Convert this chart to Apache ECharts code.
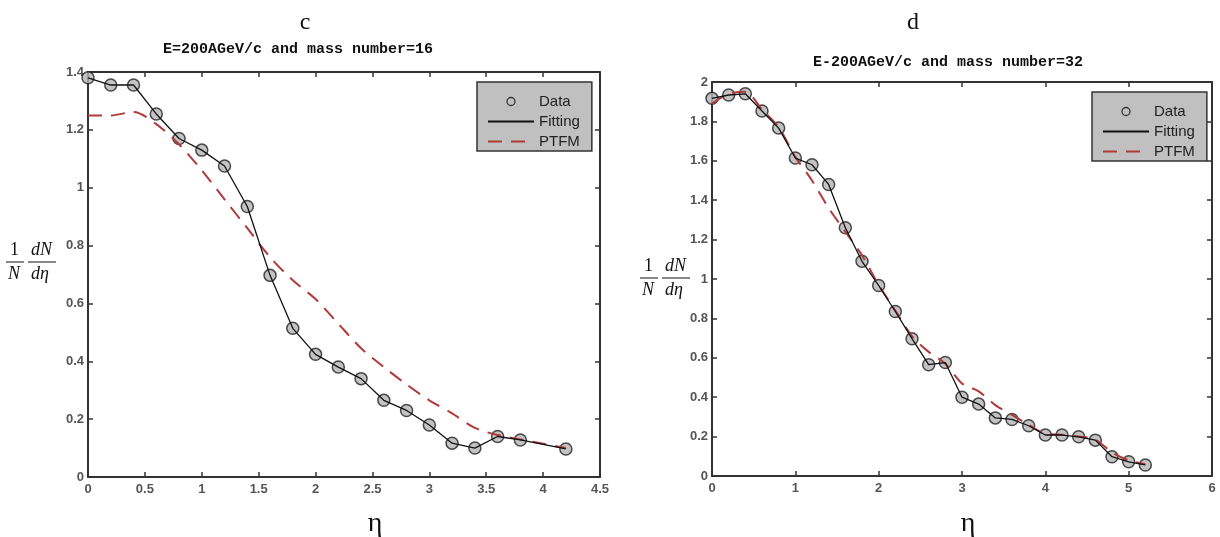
<!DOCTYPE html>
<html>
<head>
<meta charset="utf-8">
<script src="https://cdn.jsdelivr.net/npm/echarts@6/dist/echarts.min.js"></script>
<style>
  html, body { margin: 0; padding: 0; background: #fff; }
  #chart { width: 1220px; height: 537px; }
</style>
</head>
<body>
<div id="chart"></div>
<script>
// panel c : mass number = 16
const etaC = [0, 0.2, 0.4, 0.6, 0.8, 1.0, 1.2, 1.4, 1.6, 1.8, 2.0, 2.2, 2.4, 2.6, 2.8, 3.0, 3.2, 3.4, 3.6, 3.8, 4.2];
const dataC = [1.38, 1.355, 1.355, 1.255, 1.17, 1.13, 1.075, 0.935, 0.697, 0.514, 0.424, 0.38, 0.34, 0.265, 0.23, 0.18, 0.117, 0.1, 0.14, 0.128, 0.097];
const ptfmEtaC = [0, 0.2, 0.4, 0.6, 0.8, 1.0, 1.2, 1.4, 1.6, 1.8, 2.0, 2.2, 2.4, 2.6, 2.8, 3.0, 3.2, 3.4, 3.6, 3.8, 4.0, 4.2];
const ptfmC = [1.25, 1.25, 1.262, 1.22, 1.15, 1.06, 0.96, 0.86, 0.76, 0.68, 0.615, 0.53, 0.445, 0.38, 0.32, 0.265, 0.22, 0.17, 0.145, 0.13, 0.115, 0.1];

// panel d : mass number = 32
const etaD = [0, 0.2, 0.4, 0.6, 0.8, 1.0, 1.2, 1.4, 1.6, 1.8, 2.0, 2.2, 2.4, 2.6, 2.8, 3.0, 3.2, 3.4, 3.6, 3.8, 4.0, 4.2, 4.4, 4.6, 4.8, 5.0, 5.2];
const dataD = [1.917, 1.934, 1.94, 1.853, 1.766, 1.614, 1.58, 1.48, 1.26, 1.09, 0.967, 0.835, 0.697, 0.565, 0.576, 0.4, 0.365, 0.295, 0.287, 0.255, 0.208, 0.208, 0.199, 0.182, 0.098, 0.072, 0.056];
const ptfmD = [1.89, 1.94, 1.95, 1.86, 1.77, 1.62, 1.5, 1.36, 1.24, 1.12, 0.97, 0.84, 0.71, 0.63, 0.57, 0.47, 0.43, 0.36, 0.31, 0.26, 0.215, 0.21, 0.2, 0.185, 0.12, 0.08, 0.06];

const pairs = (xs, ys) => xs.map((x, i) => [x, ys[i]]);

const axisColor = '#333';
const labelStyle = { color: '#555', fontWeight: 'bold', fontFamily: 'Arial, Liberation Sans', fontSize: 13 };

function makeX(gridIndex, max, interval, top) {
  return {
    type: 'value', gridIndex, min: 0, max, interval,
    position: top ? 'top' : 'bottom',
    axisLine: { show: true, onZero: false, lineStyle: { color: axisColor, width: 2 } },
    axisTick: { show: true, inside: true, length: 5, lineStyle: { color: axisColor, width: 1.5 } },
    axisLabel: top ? { show: false } : Object.assign({ margin: 6 }, labelStyle),
    splitLine: { show: false }
  };
}

function makeY(gridIndex, max, right) {
  return {
    type: 'value', gridIndex, min: 0, max, interval: 0.2,
    position: right ? 'right' : 'left',
    axisLine: { show: true, onZero: false, lineStyle: { color: axisColor, width: 2 } },
    axisTick: { show: true, inside: true, length: 5, lineStyle: { color: axisColor, width: 1.5 } },
    axisLabel: right ? { show: false } : Object.assign({ margin: 4 }, labelStyle),
    splitLine: { show: false }
  };
}

function panelSeries(idx, eta, data, ptfmEta, ptfm) {
  return [
    {
      name: 'PTFM', type: 'line', xAxisIndex: idx * 2, yAxisIndex: idx * 2,
      data: pairs(ptfmEta, ptfm), symbol: 'none', smooth: 0.3,
      lineStyle: { color: '#b03a3a', width: 2, type: [14, 9] }, itemStyle: { color: '#b03a3a' }
    },
    {
      name: 'Fitting', type: 'line', xAxisIndex: idx * 2, yAxisIndex: idx * 2,
      data: pairs(eta, data), symbol: 'none',
      lineStyle: { color: '#111', width: 1.3 }, itemStyle: { color: '#111' }
    },
    {
      name: 'Data', type: 'scatter', xAxisIndex: idx * 2, yAxisIndex: idx * 2,
      data: pairs(eta, data), symbol: 'circle', symbolSize: 12,
      itemStyle: { color: '#b4b4b4', borderColor: '#222', borderWidth: 1.5 }
    }
  ];
}

function makeLegend(left, top) {
  return {
    data: [
      { name: 'Data', itemStyle: { color: '#c0c0c0', borderColor: '#111', borderWidth: 1.3 } },
      { name: 'Fitting', itemStyle: { opacity: 0 } },
      { name: 'PTFM', itemStyle: { opacity: 0 } }
    ],
    orient: 'vertical', left, top,
    backgroundColor: '#c0c0c0', borderColor: '#333', borderWidth: 1.5,
    padding: [12, 12, 2, 10], itemGap: 5, itemWidth: 46, itemHeight: 8,
    textStyle: { fontFamily: 'Arial, Liberation Sans', fontSize: 15, color: '#222' },
    selectedMode: false
  };
}

function fraction(x, y) {
  const t = { fontFamily: 'Liberation Serif, Times New Roman', fontStyle: 'italic', fontSize: 18, fill: '#111' };
  return [
    { type: 'text', left: x + 4, top: y - 21, style: Object.assign({}, t, { text: '1', fontStyle: 'normal' }) },
    { type: 'line', shape: { x1: x, y1: y, x2: x + 18, y2: y }, style: { stroke: '#111', lineWidth: 1 } },
    { type: 'text', left: x + 2, top: y + 3, style: Object.assign({ text: 'N' }, t) },
    { type: 'text', left: x + 25, top: y - 21, style: Object.assign({ text: 'dN' }, t) },
    { type: 'line', shape: { x1: x + 22, y1: y, x2: x + 50, y2: y }, style: { stroke: '#111', lineWidth: 1 } },
    { type: 'text', left: x + 25, top: y + 3, style: Object.assign({ text: 'd\u03b7' }, t) }
  ];
}

const serif = { fontFamily: 'Liberation Serif, Times New Roman', fontSize: 24, color: '#111', fontWeight: 'normal' };
const mono = { fontFamily: 'Liberation Mono, Courier New', fontSize: 15, fontWeight: 'bold', color: '#111' };

const option = {
  animation: false,
  backgroundColor: '#fff',
  title: [
    { text: 'c', left: 300, top: 6, textAlign: 'center', textStyle: serif },
    { text: 'E=200AGeV/c and mass number=16', left: 293, top: 37, textAlign: 'center', textStyle: mono },
    { text: 'd', left: 908, top: 6, textAlign: 'center', textStyle: serif },
    { text: 'E-200AGeV/c and mass number=32', left: 943, top: 50, textAlign: 'center', textStyle: mono },
    { text: '\u03b7', left: 370, top: 505, textAlign: 'center', textStyle: Object.assign({}, serif, { fontSize: 28 }) },
    { text: '\u03b7', left: 963, top: 505, textAlign: 'center', textStyle: Object.assign({}, serif, { fontSize: 28 }) }
  ],
  grid: [
    { left: 88, top: 72, width: 512, bottom: 60 },
    { left: 712, top: 82, width: 500, bottom: 61 }
  ],
  xAxis: [
    makeX(0, 4.5, 0.5, false), makeX(0, 4.5, 0.5, true),
    makeX(1, 6, 1, false), makeX(1, 6, 1, true)
  ],
  yAxis: [
    makeY(0, 1.4, false), makeY(0, 1.4, true),
    makeY(1, 2, false), makeY(1, 2, true)
  ],
  legend: [makeLegend(477, 82), makeLegend(1092, 92)],
  graphic: fraction(6, 262).concat(fraction(640, 278)),
  series: panelSeries(0, etaC, dataC, ptfmEtaC, ptfmC).concat(panelSeries(1, etaD, dataD, etaD, ptfmD))
};

const chart = echarts.init(document.getElementById('chart'));
chart.setOption(option);
</script>
</body>
</html>
